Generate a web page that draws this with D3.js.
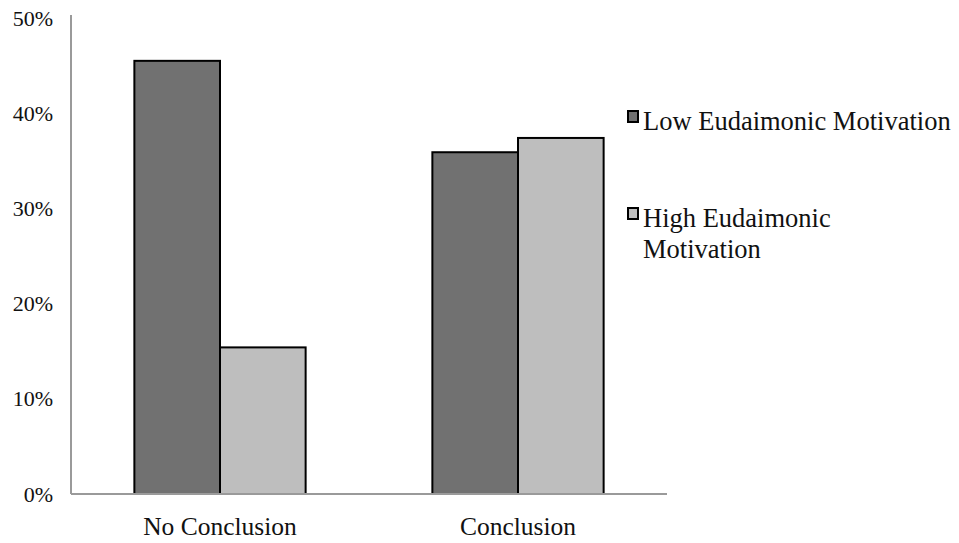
<!DOCTYPE html>
<html>
<head>
<meta charset="utf-8">
<script src="https://cdn.jsdelivr.net/npm/d3@7"></script>
<style>
  body { margin: 0; background: #fff; }
</style>
</head>
<body>
<svg width="959" height="543"></svg>
<script>
const categories = ['No Conclusion', 'Conclusion'];
const seriesNames = ['Low Eudaimonic Motivation', 'High Eudaimonic Motivation'];
const lowValues = [0.455, 0.359];
const highValues = [0.154, 0.374];
const yTicks = [0, 0.1, 0.2, 0.3, 0.4, 0.5];
const colors = ['#717171', '#bebebe'];
const serif = "'Liberation Serif', 'Times New Roman', serif";

function createChart() {
  const svg = d3.select('svg');
  const left = 71, right = 667, top = 18, bottom = 494;

  const x0 = d3.scaleBand()
      .domain(categories)
      .range([left, right])
      .padding(0);
  const x1 = d3.scaleBand()
      .domain(seriesNames)
      .range([0, x0.bandwidth()])
      .paddingInner(0)
      .paddingOuter(0.74);
  const y = d3.scaleLinear()
      .domain([0, 0.5])
      .range([bottom, top]);

  const rows = categories.map((c, i) => ({
    category: c,
    values: [lowValues[i], highValues[i]],
  }));

  svg.append('g')
      .selectAll('g')
      .data(rows)
      .enter()
      .append('g')
      .attr('transform', d => `translate(${x0(d.category)},0)`)
      .selectAll('rect')
      .data(d => d.values.map((v, j) => ({name: seriesNames[j], value: v, j})))
      .enter()
      .append('rect')
      .attr('x', d => x1(d.name))
      .attr('y', d => y(d.value))
      .attr('width', x1.bandwidth())
      .attr('height', d => bottom - y(d.value))
      .style('fill', d => colors[d.j])
      .style('stroke', '#000')
      .style('stroke-width', '2px');

  // y axis
  const yAxis = svg.append('g')
      .attr('transform', `translate(${left},0)`)
      .call(d3.axisLeft(y).tickValues(yTicks).tickFormat(d3.format('.0%'))
          .tickSize(0).tickPadding(18));
  yAxis.select('.domain').attr('stroke', '#9a9a9a').attr('stroke-width', 2)
      .attr('d', `M0,15V${bottom}`);
  yAxis.selectAll('text')
      .style('font-family', serif)
      .style('font-size', '22px')
      .style('fill', '#111')
      .attr('dy', '0.32em');

  // x axis
  const xAxis = svg.append('g')
      .attr('transform', `translate(0,${bottom})`)
      .call(d3.axisBottom(x0).tickSize(0).tickPadding(23));
  xAxis.select('.domain').attr('stroke', '#9a9a9a').attr('stroke-width', 2)
      .attr('d', `M${left},0H${right}`);
  xAxis.selectAll('text')
      .style('font-family', serif)
      .style('font-size', '25.5px')
      .style('fill', '#111')
      .attr('dy', '0.71em');

  // legend
  const legend = svg.append('g');
  const legendRows = [
    {lines: ['Low Eudaimonic Motivation'], y: 130},
    {lines: ['High Eudaimonic', 'Motivation'], y: 227},
  ];
  legendRows.forEach((r, i) => {
    legend.append('rect')
        .attr('x', 628).attr('y', r.y - 19)
        .attr('width', 10).attr('height', 11)
        .style('fill', colors[i])
        .style('stroke', '#000')
        .style('stroke-width', '2px');
    const t = legend.append('text')
        .attr('x', 643).attr('y', r.y)
        .style('font-family', serif)
        .style('font-size', '26.5px')
        .style('fill', '#111');
    r.lines.forEach((line, k) => {
      t.append('tspan').attr('x', 643)
          .attr('dy', k === 0 ? 0 : 31).text(line);
    });
  });
}

createChart();
</script>
</body>
</html>
